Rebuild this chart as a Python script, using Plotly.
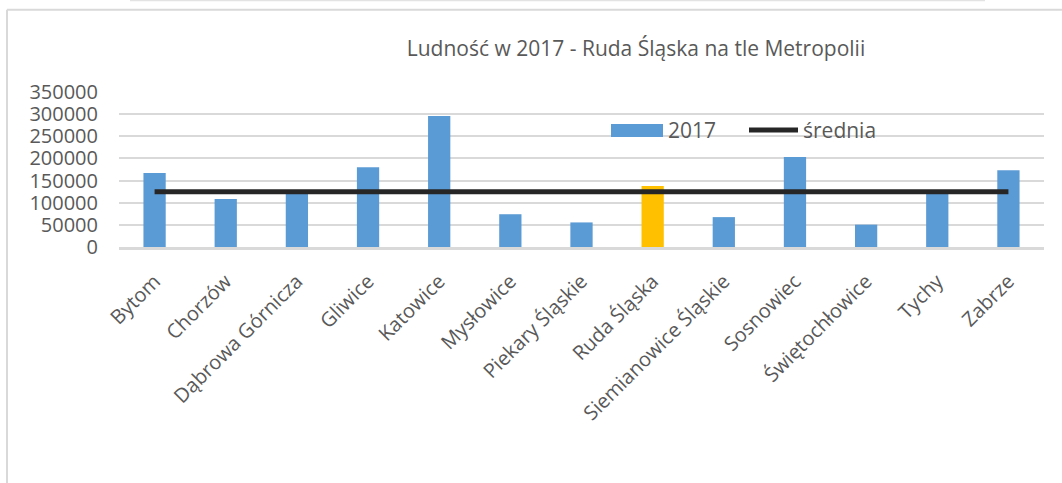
import plotly.graph_objects as go

cities = ["Bytom", "Chorzów", "Dąbrowa Górnicza", "Gliwice", "Katowice", "Mysłowice",
          "Piekary Śląskie", "Ruda Śląska", "Siemianowice Śląskie", "Sosnowiec",
          "Świętochłowice", "Tychy", "Zabrze"]
pop_2017 = [167000, 108500, 121000, 180000, 296000, 74000, 55500, 138000, 67500,
            203500, 50500, 127500, 173500]
average = [125000] * len(cities)
highlight = "Ruda Śląska"
y_ticks = [0, 50000, 100000, 150000, 200000, 250000, 300000, 350000]

BLUE = "#5B9BD5"
GOLD = "#FFC000"
DARK = "#262626"
GRID = "#D9D9D9"
TEXT = "#595959"
FONT = "Open Sans"

colors = [GOLD if c == highlight else BLUE for c in cities]

fig = go.Figure()
fig.add_trace(go.Bar(x=cities, y=pop_2017, name="2017", marker=dict(color=colors, line=dict(width=0)),
                     showlegend=False))
fig.add_trace(go.Scatter(x=cities, y=average, name="średnia", mode="lines",
                         line=dict(color=DARK, width=5), showlegend=False))

# plot area in pixels: x 119..1044, y 92..246.7
L, R, T, B = 119, 1044, 92, 246.7
W, H = R - L, B - T


def px(xp):
    return (xp - L) / W


def py(yp):
    return (B - yp) / H


shapes = [
    # chart border (left and top)
    dict(type="line", xref="paper", yref="paper", x0=px(7), x1=px(7), y0=py(10), y1=py(490),
         line=dict(color=GRID, width=2)),
    dict(type="line", xref="paper", yref="paper", x0=px(7), x1=px(1070), y0=py(10), y1=py(10),
         line=dict(color=GRID, width=2)),
    dict(type="line", xref="paper", yref="paper", x0=px(130), x1=px(985), y0=py(0.5), y1=py(0.5),
         line=dict(color="#E3E3E3", width=2)),
    # legend swatches
    dict(type="rect", xref="paper", yref="paper", x0=px(611), x1=px(663), y0=py(137), y1=py(124),
         fillcolor=BLUE, line=dict(width=0)),
    dict(type="line", xref="paper", yref="paper", x0=px(749), x1=px(798), y0=py(130), y1=py(130),
         line=dict(color=DARK, width=5)),
]

annotations = [
    dict(text="2017", xref="paper", yref="paper", x=px(666), y=py(130), xanchor="left",
         yanchor="middle", showarrow=False, font=dict(family=FONT, size=21, color=TEXT)),
    dict(text="średnia", xref="paper", yref="paper", x=px(801), y=py(130), xanchor="left",
         yanchor="middle", showarrow=False, font=dict(family=FONT, size=21, color=TEXT)),
]

fig.update_layout(
    width=1062, height=483,
    margin=dict(l=L, r=1062 - R, t=T, b=483 - B),
    paper_bgcolor="white", plot_bgcolor="white",
    bargap=0.687,
    title=dict(text="Ludność w 2017 - Ruda Śląska na tle Metropolii", x=636 / 1062, xanchor="center",
               xref="container", yref="container", y=1 - 49 / 483, yanchor="middle",
               font=dict(family=FONT, size=21, color=TEXT)),
    shapes=shapes,
    annotations=annotations,
    showlegend=False,
    font=dict(family=FONT, color=TEXT),
)
fig.update_yaxes(range=[0, 350000], tickvals=y_ticks, ticktext=[str(v) for v in y_ticks],
                 showgrid=True, gridcolor=GRID, gridwidth=1.5, zeroline=False,
                 tickfont=dict(family=FONT, size=20, color=TEXT), ticklabelstandoff=20,
                 showline=False)
fig.update_xaxes(tickangle=-45, tickfont=dict(family=FONT, size=20, color=TEXT),
                 showline=True, linecolor=GRID, linewidth=2.5, ticks="", ticklabelstandoff=12)

fig.write_html("out.html", config={"displayModeBar": False},
               post_script="document.body.style.margin='0';document.body.style.overflow='hidden';")
